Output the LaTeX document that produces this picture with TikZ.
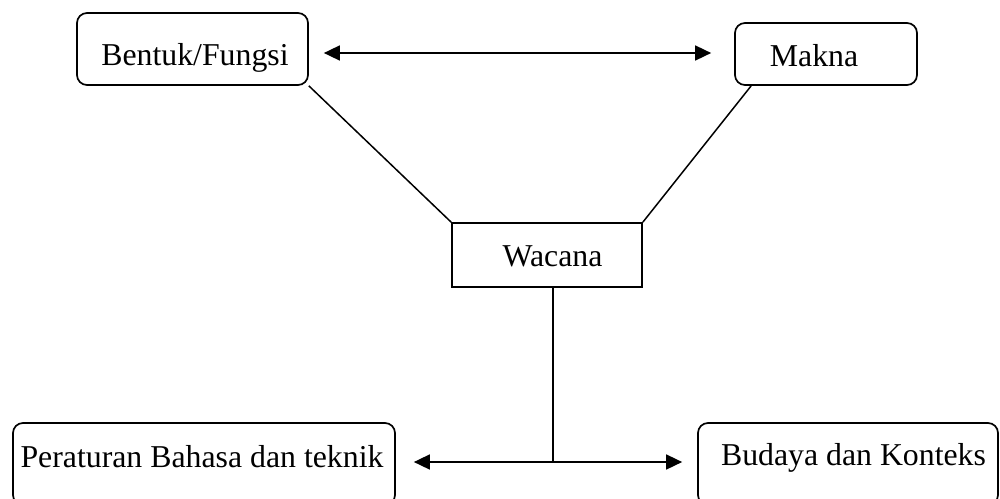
\documentclass[tikz,border=0pt]{standalone}
\usepackage{fontspec}
\setmainfont{Liberation Serif}
\usetikzlibrary{arrows.meta}
\begin{document}
\begin{tikzpicture}[x=1pt,y=-1pt,
  rbox/.style={draw,line width=1.7pt,rounded corners=10pt,inner sep=0pt},
  sbox/.style={draw,line width=1.7pt,inner sep=0pt},
  lbl/.style={anchor=base,inner sep=0pt,font=\fontsize{31.8pt}{36pt}\selectfont},
  conn/.style={line width=1.5pt},
  arr/.style={line width=1.6pt,-{Triangle[length=16pt,width=15pt]}},
  darr/.style={line width=1.6pt,{Triangle[length=16pt,width=15pt]}-{Triangle[length=16pt,width=15pt]}}]
\useasboundingbox (0,0) rectangle (1000,498);
\node[rbox,minimum width=231pt,minimum height=72pt] (bf) at (192.5,49) {};
\node[lbl] (bft) at (195,65) {Bentuk/Fungsi};
\node[rbox,minimum width=182pt,minimum height=62pt] (mk) at (826,54) {};
\node[lbl] (mkt) at (814,66) {Makna};
\node[sbox,minimum width=190pt,minimum height=64pt] (wc) at (547,255) {};
\node[lbl] (wct) at (552.5,266) {Wacana};
\node[rbox,minimum width=382pt,minimum height=82pt] (pr) at (204,464) {};
\node[lbl] (prt) at (202,467) {Peraturan Bahasa dan teknik};
\node[rbox,minimum width=300pt,minimum height=82pt] (bd) at (848,464) {};
\node[lbl] (bdt) at (853.5,465) {Budaya dan Konteks};
\coordinate (j) at (553,462);
\draw[darr] ([xshift=15pt,yshift=-4pt]bf.east) -- ([xshift=-23pt,yshift=1pt]mk.west);
\draw[conn] (bf.south east) -- (wc.north west);
\draw[conn] ([xshift=17pt]mk.south west) -- (wc.north east);
\draw[conn] ([xshift=6pt]wc.south) -- (j);
\draw[arr] (j) -- ([xshift=18pt]pr.east |- j);
\draw[arr] (j) -- ([xshift=-15pt]bd.west |- j);
\end{tikzpicture}
\end{document}
